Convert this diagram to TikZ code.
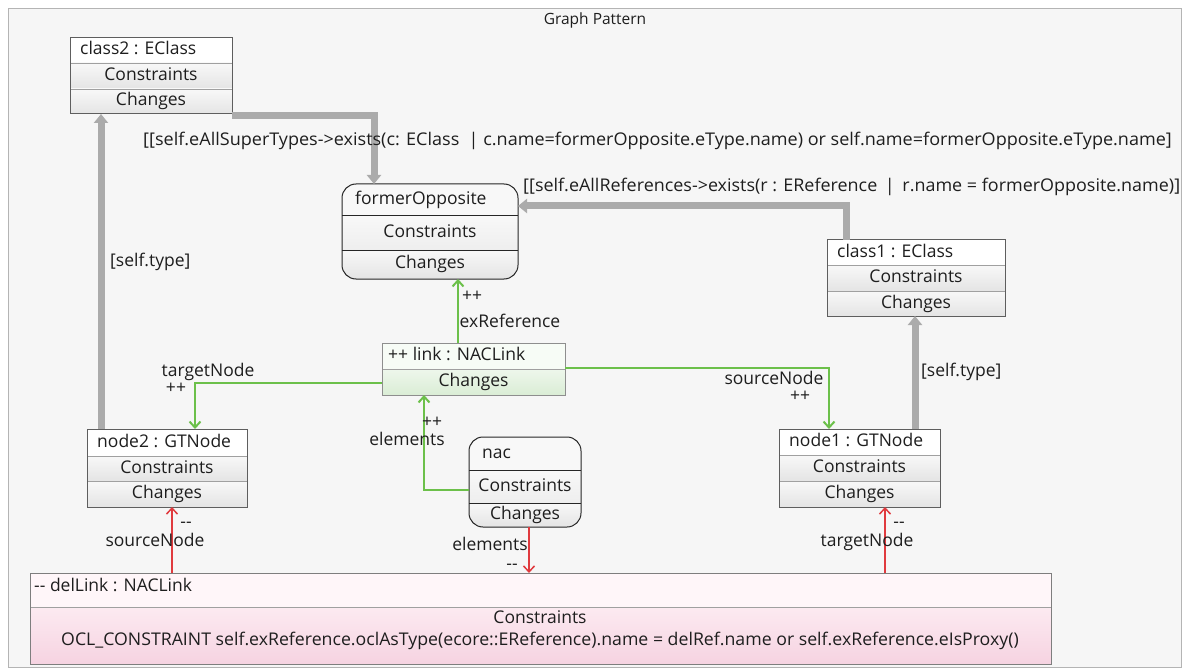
\documentclass[tikz,border=0pt]{standalone}
\usepackage{fontspec}
\setmainfont{Open Sans}
\usetikzlibrary{arrows.meta}
\definecolor{bgcol}{HTML}{F6F6F6}
\definecolor{framecol}{HTML}{B4B4B4}
\definecolor{boxline}{HTML}{5E5E5E}
\definecolor{divcol}{HTML}{A0A0A0}
\definecolor{txtcol}{HTML}{1E1E1E}
\definecolor{pathgray}{HTML}{ABABAB}
\definecolor{addgreen}{HTML}{6CC04A}
\definecolor{delred}{HTML}{E03A3E}
\definecolor{cmptop}{HTML}{F8F8F8}
\definecolor{cmpbot}{HTML}{E4E4E4}
\definecolor{grnhdr}{HTML}{F7FCF6}
\definecolor{grntop}{HTML}{EEF7EC}
\definecolor{grnbot}{HTML}{DAEDD5}
\definecolor{pnkhdr}{HTML}{FFF6F9}
\definecolor{pnktop}{HTML}{FCEAF1}
\definecolor{pnkbot}{HTML}{F6D3E1}

\tikzset{
  txt/.style={font=\fontsize{17.5}{19}\selectfont, text=txtcol, inner sep=0pt,
              text height=13pt, text depth=4pt},
  boxframe/.style={draw=boxline, line width=1pt, inner sep=0pt, outer sep=0pt},
  roundframe/.style={draw=black!85, line width=1pt, inner sep=0pt, outer sep=0pt,
              rounded corners=14pt},
  graypath/.style={draw=pathgray, line width=7pt, line join=miter,
              -{Triangle[width=14pt,length=9pt]}},
  addarrow/.style={draw=addgreen, line width=2pt,
              -{Straight Barb[length=6pt,width=11pt]}},
  delarrow/.style={draw=delred, line width=1.5pt,
              -{Straight Barb[length=6pt,width=11pt]}},
}

% square class box: name, x, y, width, first divider, second divider, height, header
\newcommand\classbox[8]{%
  \fill[white] (#2,#3) rectangle (#2+#4,#3+#5);
  \shade[top color=cmptop,bottom color=cmpbot] (#2,#3+#5) rectangle (#2+#4,#3+#6);
  \shade[top color=cmptop,bottom color=cmpbot] (#2,#3+#6) rectangle (#2+#4,#3+#7);
  \draw[divcol] (#2,#3+#5) -- (#2+#4,#3+#5) (#2,#3+#6) -- (#2+#4,#3+#6);
  \node[boxframe,minimum width=#4,minimum height=#7,anchor=north west] (#1) at (#2,#3) {};
  \node[txt,anchor=west] (#1-name) at (#2+10,#3+#5/2) {#8};
  \node[txt] (#1-cons) at (#2+#4/2,#3+#5/2+#6/2) {Constraints};
  \node[txt] (#1-chg) at (#2+#4/2,#3+#6/2+#7/2) {Changes};
}

% rounded box, same arguments
\newcommand\roundbox[8]{%
  \begin{scope}
    \clip[rounded corners=14pt] (#2,#3) rectangle (#2+#4,#3+#7);
    \fill[cmptop] (#2,#3) rectangle (#2+#4,#3+#5);
    \shade[top color=cmptop,bottom color=cmptop!50!cmpbot] (#2,#3+#5) rectangle (#2+#4,#3+#6);
    \shade[top color=cmptop,bottom color=cmpbot] (#2,#3+#6) rectangle (#2+#4,#3+#7);
  \end{scope}
  \draw[black!85, line width=1pt] (#2,#3+#5) -- (#2+#4,#3+#5) (#2,#3+#6) -- (#2+#4,#3+#6);
  \node[roundframe,minimum width=#4,minimum height=#7,anchor=north west] (#1) at (#2,#3) {};
  \node[txt,anchor=west] (#1-name) at (#2+13,#3+#5/2) {#8};
  \node[txt] (#1-cons) at (#2+#4/2,#3+#5/2+#6/2) {Constraints};
  \node[txt] (#1-chg) at (#2+#4/2,#3+#6/2+#7/2) {Changes};
}

\begin{document}
\begin{tikzpicture}[x=1pt,y=-1pt]
\useasboundingbox (0,0) rectangle (1190,668);
\fill[white] (0,0) rectangle (1190,668);
\draw[framecol, fill=bgcol] (8,8) rectangle (1181,667);
\node[font=\fontsize{15.5}{17}\selectfont, text=txtcol] (title) at (595,20) {Graph Pattern};

% object boxes
\classbox{class2}{70}{38}{162}{25}{51}{76}{class2 : EClass}
\classbox{class1}{827}{240}{178}{25}{51}{76}{class1 : EClass}
\classbox{node2}{87}{429}{160}{27}{52}{78}{node2 : GTNode}
\classbox{node1}{779}{429}{161}{26}{52}{78}{node1 : GTNode}
\roundbox{formerOpposite}{342}{184}{176}{32}{66}{95}{formerOpposite}
\roundbox{nac}{469}{437}{112}{33}{66}{90}{nac}

% created link
\fill[grnhdr] (382,343) rectangle (565,369);
\shade[top color=grntop,bottom color=grnbot] (382,369) rectangle (565,395);
\draw[divcol] (382,369) -- (565,369);
\node[boxframe,draw=boxline!70,minimum width=183,minimum height=52,anchor=north west] (link) at (382,343) {};
\node[txt,anchor=west] (link-name) at (388,356) {++ link : NACLink};
\node[txt] (link-chg) at (473.5,382) {Changes};

% deleted link
\fill[pnkhdr] (30,573) rectangle (1051,607);
\shade[top color=pnktop,bottom color=pnkbot] (30,607) rectangle (1051,664);
\draw[divcol] (30,607) -- (1051,607);
\node[boxframe,draw=boxline!80,minimum width=1021,minimum height=91,anchor=north west] (delLink) at (30,573) {};
\node[txt,anchor=west] (delLink-name) at (34,587) {-{}- delLink : NACLink};
\node[txt] (delLink-cons) at (540,619) {Constraints};
\node[txt] (delLink-ocl) at (540,641) {\scalebox{1.012}[1]{OCL\_CONSTRAINT self.exReference.oclAsType(ecore::EReference).name = delRef.name or self.exReference.eIsProxy()}};

% type and constraint paths
\draw[graypath] ([xshift=14pt]node2.north west) -- ([xshift=14pt]node2.north west |- class2.south);
\draw[graypath] ([yshift=-2pt]class2.south east) -| ([xshift=32pt]formerOpposite.north west);
\draw[graypath] ([xshift=19pt]class1.north west) |- ([yshift=-22pt]formerOpposite.north east);
\draw[graypath] ([xshift=136pt]node1.north west) -- ([xshift=136pt]node1.north west |- class1.south);

\node[txt,anchor=west] (lblType2) at (110,262) {[self.type]};
\node[txt,anchor=west] (lblType1) at (921,372) {[self.type]};
\node[txt,anchor=west] (lblSuper) at (143,141) {\scalebox{1.03}[1]{[[self.eAllSuperTypes->exists(c: EClass \ | c.name=formerOpposite.eType.name) or self.name=formerOpposite.eType.name]}};
\node[txt,anchor=west] (lblRefs) at (523,187) {\scalebox{1.025}[1]{[[self.eAllReferences->exists(r : EReference \,|\, r.name = formerOpposite.name)]}};

% created references
\draw[addarrow] ([xshift=76pt]link.north west) -- ([xshift=76pt]link.north west |- formerOpposite.south);
\draw[addarrow] ([yshift=-40pt]link.north west) -| ([xshift=108pt]node2.north west);
\draw[addarrow] ([yshift=-25pt]link.north east) -| ([xshift=50pt]node1.north west);
\draw[addarrow] ([yshift=-53pt]nac.north west) -| ([xshift=42pt]link.south west);

\node[txt] (lblPlusEx) at (472,297) {++};
\node[txt] (lblEx) at (510,323) {exReference};
\node[txt] (lblTgt) at (208,372) {targetNode};
\node[txt] (lblPlusTgt) at (176,389) {++};
\node[txt] (lblSrc) at (774,380) {sourceNode};
\node[txt] (lblPlusSrc) at (800,397) {++};
\node[txt] (lblPlusEl) at (432,423) {++};
\node[txt] (lblEl) at (407,441) {elements};

% deleted references
\draw[delarrow] ([xshift=142pt]delLink.north west) -- ([xshift=142pt]delLink.north west |- node2.south);
\draw[delarrow] ([xshift=60pt]nac.south west) -- ([xshift=60pt]nac.south west |- delLink.north);
\draw[delarrow] ([xshift=855pt]delLink.north west) -- ([xshift=855pt]delLink.north west |- node1.south);

\node[txt] (lblMinSrc) at (186,523) {-{}-};
\node[txt] (lblSrcDel) at (155,542) {sourceNode};
\node[txt] (lblElDel) at (490,546) {elements};
\node[txt] (lblMinEl) at (512,565) {-{}-};
\node[txt] (lblMinTgt) at (899,523) {-{}-};
\node[txt] (lblTgtDel) at (867,542) {targetNode};
\end{tikzpicture}
\end{document}
